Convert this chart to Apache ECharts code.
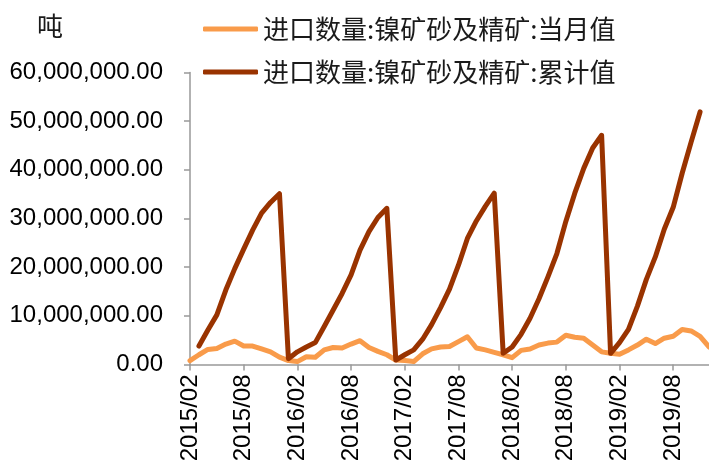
<!DOCTYPE html>
<html>
<head>
<meta charset="utf-8">
<script src="https://cdn.jsdelivr.net/npm/echarts@6/dist/echarts.min.js"></script>
<style>
html,body{margin:0;padding:0;background:#fff;}
#chart{width:709px;height:472px;}
</style>
</head>
<body>
<div id="chart"></div>
<script>
// Months 2015/02 .. 2019/12
var categories = [
 '2015/02','2015/03','2015/04','2015/05','2015/06','2015/07','2015/08','2015/09','2015/10','2015/11','2015/12',
 '2016/01','2016/02','2016/03','2016/04','2016/05','2016/06','2016/07','2016/08','2016/09','2016/10','2016/11','2016/12',
 '2017/01','2017/02','2017/03','2017/04','2017/05','2017/06','2017/07','2017/08','2017/09','2017/10','2017/11','2017/12',
 '2018/01','2018/02','2018/03','2018/04','2018/05','2018/06','2018/07','2018/08','2018/09','2018/10','2018/11','2018/12',
 '2019/01','2019/02','2019/03','2019/04','2019/05','2019/06','2019/07','2019/08','2019/09','2019/10','2019/11','2019/12'
];
// values in million tonnes (converted to tonnes below)
var monthlyMt = [
 0.8, 2.0, 3.1, 3.3, 4.2, 4.8, 3.8, 3.8, 3.2, 2.6, 1.5,
 0.8, 0.6, 1.6, 1.5, 3.0, 3.5, 3.4, 4.2, 4.9, 3.5, 2.7, 2.0,
 0.9, 0.8, 0.6, 2.2, 3.2, 3.6, 3.7, 4.7, 5.7, 3.4, 3.0, 2.5,
 2.0, 1.4, 2.9, 3.2, 4.0, 4.4, 4.6, 6.0, 5.6, 5.4, 4.0, 2.6,
 2.3, 2.1, 3.0, 4.0, 5.2, 4.3, 5.4, 5.8, 7.2, 6.9, 5.8, 3.6
];
var cumulativeMt = [
 null, 3.8, 7.1, 10.2, 15.3, 19.7, 23.7, 27.6, 31.1, 33.3, 35.1,
 1.2, 2.6, 3.6, 4.5, 7.8, 11.2, 14.6, 18.4, 23.5, 27.3, 30.2, 32.1,
 0.9, 2.0, 3.0, 5.2, 8.2, 11.7, 15.5, 20.4, 25.9, 29.5, 32.5, 35.2,
 2.3, 3.6, 6.2, 9.5, 13.5, 18.0, 22.8, 29.4, 35.2, 40.3, 44.5, 47.1,
 2.3, 4.5, 7.2, 12.0, 17.5, 22.1, 27.8, 32.3, 39.3, 45.7, 51.9, null
];
var seriesNames = ['进口数量:镍矿砂及精矿:当月值', '进口数量:镍矿砂及精矿:累计值'];
var unitName = '吨';
var TONNES_PER_MT = 1000000;

function toTonnes(arr){ return arr.map(function(v){ return v == null ? null : v * TONNES_PER_MT; }); }
function fmt(v){
  var s = Math.round(v).toString().replace(/\B(?=(\d{3})+(?!\d))/g, ',');
  return s + '.00';
}

var chart = echarts.init(document.getElementById('chart'), null, {renderer:'canvas'});
var font = 'Liberation Sans';
var cjk = '"Noto Sans CJK SC"';
chart.setOption({
  animation:false,
  backgroundColor:'#ffffff',
  title:{ text:unitName, left:32, top:8, textStyle:{fontFamily:cjk, fontSize:26, fontWeight:'normal', color:'#1a1a1a'} },
  legend:{
    orient:'vertical', left:198, top:11, itemGap:17,
    icon:'roundRect', itemWidth:55, itemHeight:5,
    textStyle:{fontFamily:cjk, fontSize:26, color:'#1a1a1a'},
    data:seriesNames
  },
  grid:{ left:190, right:-2, top:72.5, bottom:107.5, containLabel:false },
  xAxis:{
    type:'category', data:categories, boundaryGap:false,
    axisLine:{lineStyle:{color:'#999999', width:1.5}},
    axisTick:{show:true, interval:5, length:6, lineStyle:{color:'#999999', width:1.5}},
    axisLabel:{interval:5, rotate:90, margin:10, color:'#000', fontFamily:font, fontSize:24},
    splitLine:{show:false}
  },
  yAxis:{
    type:'value', min:0, max:60000000, interval:10000000,
    axisLine:{show:true, lineStyle:{color:'#999999', width:1.5}},
    axisTick:{show:true, length:6, lineStyle:{color:'#999999', width:1.5}},
    axisLabel:{margin:27, color:'#000', fontFamily:font, fontSize:24, formatter:fmt},
    splitLine:{show:false}
  },
  series:[
    { name:seriesNames[0], type:'line', data:toTonnes(monthlyMt), symbol:'none', color:'#F99B4A',
      lineStyle:{width:5, color:'#F99B4A', cap:'round', join:'round'} },
    { name:seriesNames[1], type:'line', data:toTonnes(cumulativeMt), symbol:'none', color:'#993300',
      lineStyle:{width:5, color:'#993300', cap:'round', join:'round'}, connectNulls:false }
  ]
});
</script>
</body>
</html>
